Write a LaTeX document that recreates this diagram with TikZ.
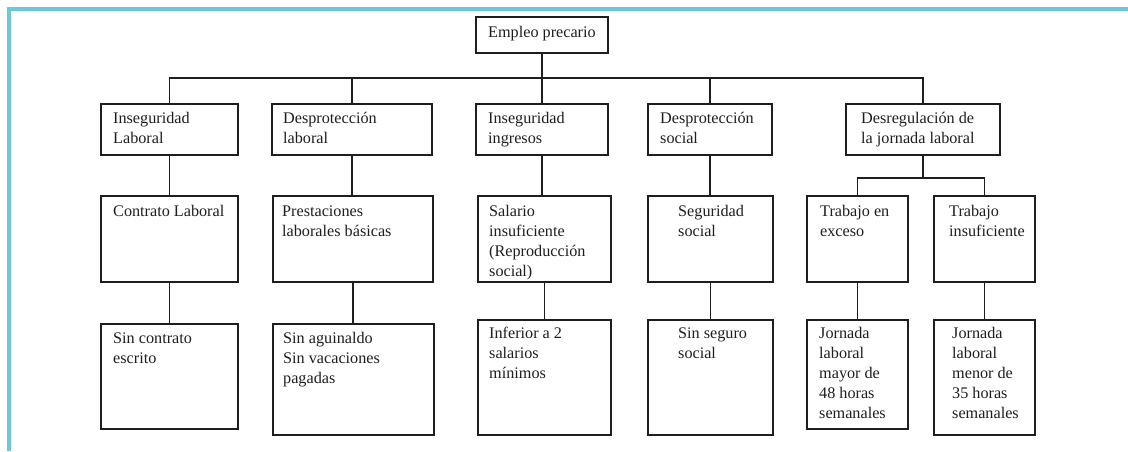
\documentclass[tikz,border=0pt]{standalone}
\usepackage{fontspec}
\setmainfont{Liberation Serif}
\definecolor{frameteal}{HTML}{6CC8D6}
\definecolor{ink}{HTML}{1E1E1E}
\begin{document}
\begin{tikzpicture}[x=1pt,y=-1pt,
  box/.style={draw=ink, line width=1.4pt, anchor=north west, inner sep=0pt, outer sep=0pt},
  txt/.style={anchor=north west, inner sep=0pt, align=left, text=ink, font=\fontsize{16.2}{20}\selectfont},
  conn/.style={draw=ink, line width=1.4pt}]
\useasboundingbox (0,0) rectangle (1128,451);
% frame
\draw[frameteal, line width=3.5pt] (9,451) -- (9,9) -- (1128,9);
% top
\node[box, minimum width=132pt, minimum height=36pt] (top) at (476,17) {};
\node[txt] (ttop) at (488,23) {\strut Empleo precario};
% level 1
\node[box, minimum width=137pt, minimum height=51pt] (b1) at (101,104) {};
\node[box, minimum width=160pt, minimum height=51pt] (b2) at (272,104) {};
\node[box, minimum width=132pt, minimum height=51pt] (b3) at (476,104) {};
\node[box, minimum width=124pt, minimum height=51pt] (b4) at (648,104) {};
\node[box, minimum width=154pt, minimum height=51pt] (b5) at (846,104) {};
\node[txt] (tb1) at (113,109) {\strut Inseguridad\\Laboral};
\node[txt] (tb2) at (283,109) {\strut Desprotección\\laboral};
\node[txt] (tb3) at (488,109) {\strut Inseguridad\\ingresos};
\node[txt] (tb4) at (660,109) {\strut Desprotección\\social};
\node[txt] (tb5) at (861,109) {\strut Desregulación de\\la jornada laboral};
% level 2
\node[box, minimum width=137pt, minimum height=86pt] (c1) at (101,196) {};
\node[box, minimum width=160pt, minimum height=86pt] (c2) at (273,196) {};
\node[box, minimum width=133pt, minimum height=86pt] (c3) at (478,196) {};
\node[box, minimum width=125pt, minimum height=86pt] (c4) at (648,196) {};
\node[box, minimum width=101pt, minimum height=86pt] (c5) at (807,196) {};
\node[box, minimum width=101pt, minimum height=86pt] (c6) at (934,196) {};
\node[txt] (tc1) at (113,202) {\strut Contrato Laboral};
\node[txt] (tc2) at (282,202) {\strut Prestaciones\\laborales básicas};
\node[txt] (tc3) at (489,202) {\strut Salario\\insuficiente\\(Reproducción\\social)};
\node[txt] (tc4) at (678,202) {\strut Seguridad\\social};
\node[txt] (tc5) at (820,202) {\strut Trabajo en\\exceso};
\node[txt] (tc6) at (949,202) {\strut Trabajo\\insuficiente};
% level 3
\node[box, minimum width=137pt, minimum height=105pt] (d1) at (101,324) {};
\node[box, minimum width=161pt, minimum height=111pt] (d2) at (273,324) {};
\node[box, minimum width=133pt, minimum height=115pt] (d3) at (478,320) {};
\node[box, minimum width=125pt, minimum height=115pt] (d4) at (648,320) {};
\node[box, minimum width=101pt, minimum height=109pt] (d5) at (807,320) {};
\node[box, minimum width=101pt, minimum height=115pt] (d6) at (934,320) {};
\node[txt] (td1) at (113,329) {\strut Sin contrato\\escrito};
\node[txt] (td2) at (283,329) {\strut Sin aguinaldo\\Sin vacaciones\\pagadas};
\node[txt] (td3) at (489,324) {\strut Inferior a 2\\salarios\\mínimos};
\node[txt] (td4) at (678,324) {\strut Sin seguro\\social};
\node[txt] (td5) at (819,324) {\strut Jornada\\laboral\\mayor de\\48 horas\\semanales};
\node[txt] (td6) at (952,324) {\strut Jornada\\laboral\\menor de\\35 horas\\semanales};
% connectors
\coordinate (bus) at (542,78);
\coordinate (sub) at (923,178);
\draw[conn] (top.south) -- (top.south |- bus);
\draw[conn] (b1.north) -- (b1.north |- bus) -- (b5.north |- bus) -- (b5.north);
\foreach \n in {b2,b3,b4} \draw[conn] (\n.north) -- (\n.north |- bus);
\draw[conn] (b1.south) -- (b1.south |- c1.north);
\draw[conn] (b2.south) -- (b2.south |- c2.north);
\draw[conn] (b3.south) -- (b3.south |- c3.north);
\draw[conn] (b4.south) -- (b4.south |- c4.north);
\draw[conn] (b5.south) -- (b5.south |- sub);
\draw[conn] (c5.north) -- (c5.north |- sub) -- (c6.north |- sub) -- (c6.north);
\draw[conn] (c1.south) -- (c1.south |- d1.north);
\draw[conn] (c2.south) -- (c2.south |- d2.north);
\draw[conn] (c3.south) -- (c3.south |- d3.north);
\draw[conn] (c4.south) -- (c4.south |- d4.north);
\draw[conn] (c5.south) -- (c5.south |- d5.north);
\draw[conn] (c6.south) -- (c6.south |- d6.north);
\end{tikzpicture}
\end{document}
